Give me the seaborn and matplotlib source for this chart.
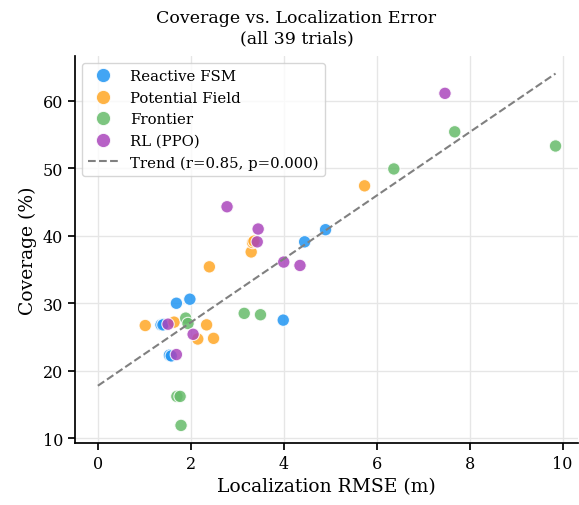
import numpy as np
import pandas as pd
import matplotlib
matplotlib.use("Agg")
import matplotlib.pyplot as plt
import seaborn as sns

# readings from the reference chart
fsm_rmse = [1.36, 1.42, 1.69, 1.98, 3.99, 4.45, 4.90, 1.54, 1.58, 1.40]
fsm_cov = [26.8, 26.9, 30.0, 30.6, 27.5, 39.1, 40.9, 22.3, 22.2, 26.8]
pf_rmse = [1.02, 1.64, 2.34, 2.15, 2.49, 2.40, 3.30, 3.33, 3.36, 5.74]
pf_cov = [26.7, 27.2, 26.8, 24.7, 24.8, 35.4, 37.6, 39.0, 39.2, 47.4]
fr_rmse = [1.89, 1.94, 3.15, 3.50, 1.70, 1.77, 1.79, 6.37, 7.68, 9.85]
fr_cov = [27.8, 27.0, 28.5, 28.3, 16.2, 16.2, 11.9, 49.9, 55.4, 53.3]
rl_rmse = [1.51, 2.05, 1.69, 2.78, 3.45, 3.43, 4.00, 4.35, 7.47]
rl_cov = [26.9, 25.4, 22.4, 44.3, 41.0, 39.1, 36.1, 35.6, 61.1]

methods = ["Reactive FSM", "Potential Field", "Frontier", "RL (PPO)"]
colors = ["#2196F3", "#FFA726", "#66BB6A", "#AB47BC"]

df = pd.concat([
    pd.DataFrame({"rmse": fsm_rmse, "coverage": fsm_cov, "method": methods[0]}),
    pd.DataFrame({"rmse": pf_rmse, "coverage": pf_cov, "method": methods[1]}),
    pd.DataFrame({"rmse": fr_rmse, "coverage": fr_cov, "method": methods[2]}),
    pd.DataFrame({"rmse": rl_rmse, "coverage": rl_cov, "method": methods[3]}),
], ignore_index=True)

sns.set_theme(style="whitegrid")
plt.rcParams['font.family'] = ['DejaVu Serif']
plt.rcParams['axes.edgecolor'] = 'black'
plt.rcParams['grid.color'] = '#e6e6e6'
for key in ['text.color', 'axes.labelcolor', 'xtick.color', 'ytick.color']:
    plt.rcParams[key] = 'black'

fig, ax = plt.subplots(figsize=(5.79, 5.06), dpi=100)
fig.subplots_adjust(left=0.1295, right=0.999, bottom=0.1225, top=0.8874)

sns.scatterplot(data=df, x="rmse", y="coverage", hue="method",
                hue_order=methods, palette=colors, s=80, alpha=0.85,
                edgecolor="white", linewidth=0.8, ax=ax)

# linear trend over all trials
slope, intercept = np.polyfit(df["rmse"], df["coverage"], 1)
xs = np.linspace(0, df["rmse"].max(), 50)
ax.plot(xs, slope * xs + intercept, "--", color="gray", linewidth=1.5,
        label="Trend (r=0.85, p=0.000)")

# title sits a bit left of the axes centre in the original (cropped figure)
ax.set_title("Coverage vs. Localization Error\n(all 39 trials)", fontsize=12.5,
             pad=10, x=0.44)
ax.set_xlabel("Localization RMSE (m)", fontsize=13.5)
ax.set_ylabel("Coverage (%)", fontsize=13.5)
ax.tick_params(labelsize=11.5, bottom=True, left=True, length=5, color='black')
ax.set_yticks([10, 20, 30, 40, 50, 60])
sns.despine(ax=ax)

ax.legend(loc="upper left", fontsize=10.75, frameon=True, edgecolor="#cccccc",
          markerscale=1.15)

fig.savefig("out.png", dpi=100)
